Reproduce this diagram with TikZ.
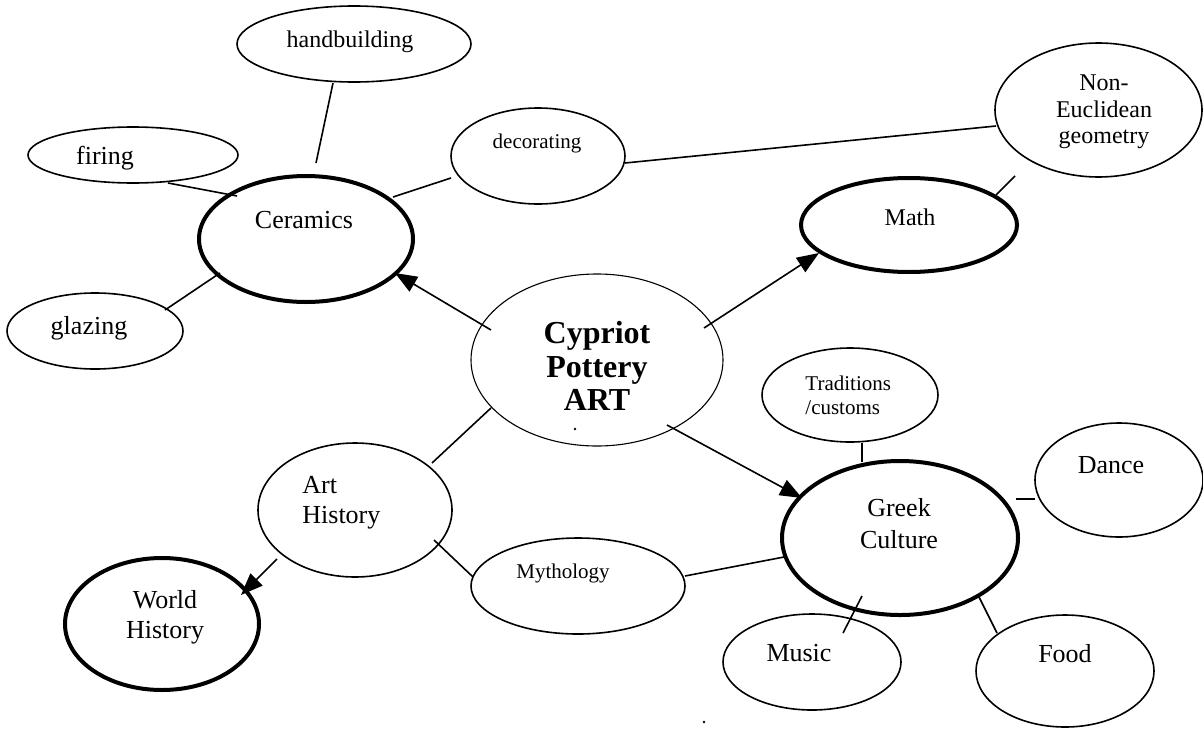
\documentclass[tikz,border=0pt]{standalone}
\usepackage{fontspec}
\setmainfont{Liberation Serif}
\usetikzlibrary{shapes.geometric,arrows.meta,calc}
\tikzset{
  bub/.style={ellipse, draw, inner sep=0pt, outer sep=0pt, line width=0.8pt},
  thickbub/.style={bub, line width=2pt},
  thinbub/.style={bub, line width=0.55pt},
  txt/.style={inner sep=0pt, align=center, font=\fontsize{13}{15}\selectfont},
  smalltxt/.style={txt, font=\fontsize{10.5}{12}\selectfont},
  midtxt/.style={txt, font=\fontsize{12}{13.3}\selectfont},
  con/.style={line width=0.8pt},
  arr/.style={con, -{Triangle[length=11pt,width=8.5pt]}},
  dotmark/.style={circle, fill, inner sep=0pt, minimum size=1.4pt}
}
\begin{document}
\begin{tikzpicture}[x=0.5pt,y=-0.5pt]
\useasboundingbox (0,0) rectangle (1203,728);
% ellipses (minimum width/height in pt = radius in px)
\node[bub, minimum width=117pt, minimum height=38pt] (hb) at (354,44) {};
\node[bub, minimum width=105pt, minimum height=28pt] (fir) at (133,155) {};
\node[bub, minimum width=87pt, minimum height=48pt] (dec) at (538,156) {};
\node[thickbub, minimum width=107pt, minimum height=63pt] (cer) at (306,239) {};
\node[bub, minimum width=88pt, minimum height=38pt] (gla) at (95,331) {};
\node[thinbub, minimum width=126pt, minimum height=86pt] (cyp) at (597,360) {};
\node[bub, minimum width=103.5pt, minimum height=67pt] (neg) at (1098.5,110) {};
\node[thickbub, minimum width=108pt, minimum height=47pt] (math) at (909,225) {};
\node[bub, minimum width=97pt, minimum height=67pt] (art) at (355,510) {};
\node[thickbub, minimum width=97pt, minimum height=66pt] (wh) at (162,624) {};
\node[bub, minimum width=107pt, minimum height=48pt] (myth) at (578,586) {};
\node[bub, minimum width=88pt, minimum height=47pt] (trad) at (850,395) {};
\node[thickbub, minimum width=118pt, minimum height=77pt] (greek) at (900,538) {};
\node[bub, minimum width=84pt, minimum height=57pt] (dance) at (1119,480) {};
\node[bub, minimum width=89pt, minimum height=48pt] (music) at (812,662) {};
\node[bub, minimum width=89pt, minimum height=56pt] (food) at (1065,671) {};
% texts
\node[midtxt] (hb-t) at (350,42) {handbuilding};
\node[txt] (fir-t) at (105,158) {firing};
\node[smalltxt] (dec-t) at (537,143) {decorating};
\node[txt] (cer-t) at (304,220) {Ceramics};
\node[txt] (gla-t) at (89,328) {glazing};
\node[txt, font=\fontsize{16}{16.8}\selectfont\bfseries] (cyp-t) at (597,366) {Cypriot\\Pottery\\ART};
\node[midtxt] (neg-t) at (1104,112) {Non-\\Euclidean\\geometry};
\node[midtxt] (math-t) at (910,217) {Math};
\node[txt, align=left, anchor=west, font=\fontsize{13}{15}\selectfont] (art-t) at (302,503) {Art\\History};
\node[txt] (wh-t) at (165,617) {World\\History};
\node[smalltxt] (myth-t) at (563,573) {Mythology};
\node[smalltxt, align=left, anchor=west] (trad-t) at (805,395) {Traditions\\/customs};
\node[txt, font=\fontsize{13}{16}\selectfont] (greek-t) at (899,524) {Greek\\Culture};
\node[txt] (dance-t) at (1111,465) {Dance};
\node[txt] (music-t) at (799,653) {Music};
\node[txt] (food-t) at (1065,654) {Food};
\node[dotmark] (dot1) at (575,429) {};
\node[dotmark] (dot2) at (704,722) {};
% connectors
\draw[con] ($(hb)+(-21,39)$) -- ($(cer)+(10,-76)$);
\draw[con] ($(fir)+(35,28)$) -- ($(cer)+(-69,-43)$);
\draw[con] ($(dec)+(-87,22)$) -- ($(cer)+(87,-42)$);
\draw[con] ($(gla)+(70,-21)$) -- ($(cer)+(-86,34)$);
\draw[arr] ($(cyp)+(-106,-30)$) -- ($(cer)+(89,34)$);
\draw[con] ($(dec)+(87,7)$) -- ($(neg)+(-102.5,16)$);
\draw[con] ($(neg)+(-83.5,66)$) -- ($(math)+(87,-30)$);
\draw[arr] ($(cyp)+(107,-32)$) -- ($(math)+(-90,28)$);
\draw[con] ($(cyp)+(-106,48)$) -- ($(art)+(77,-47)$);
\draw[arr] ($(art)+(-78,49)$) -- ($(wh)+(79,-29)$);
\draw[con] ($(art)+(79,30)$) -- ($(myth)+(-105,-9)$);
\draw[con] ($(myth)+(107,-10)$) -- ($(greek)+(-116,19)$);
\draw[arr] ($(cyp)+(70,65)$) -- ($(greek)+(-98,-40)$);
\draw[con] ($(trad)+(12,48)$) -- ($(greek)+(-38,-76)$);
\draw[con] ($(greek)+(116,-39)$) -- ($(dance)+(-84,19)$);
\draw[con] ($(music)+(31,-29)$) -- ($(greek)+(-38,58)$);
\draw[con] ($(greek)+(79,59)$) -- ($(food)+(-68,-38)$);
\end{tikzpicture}
\end{document}
